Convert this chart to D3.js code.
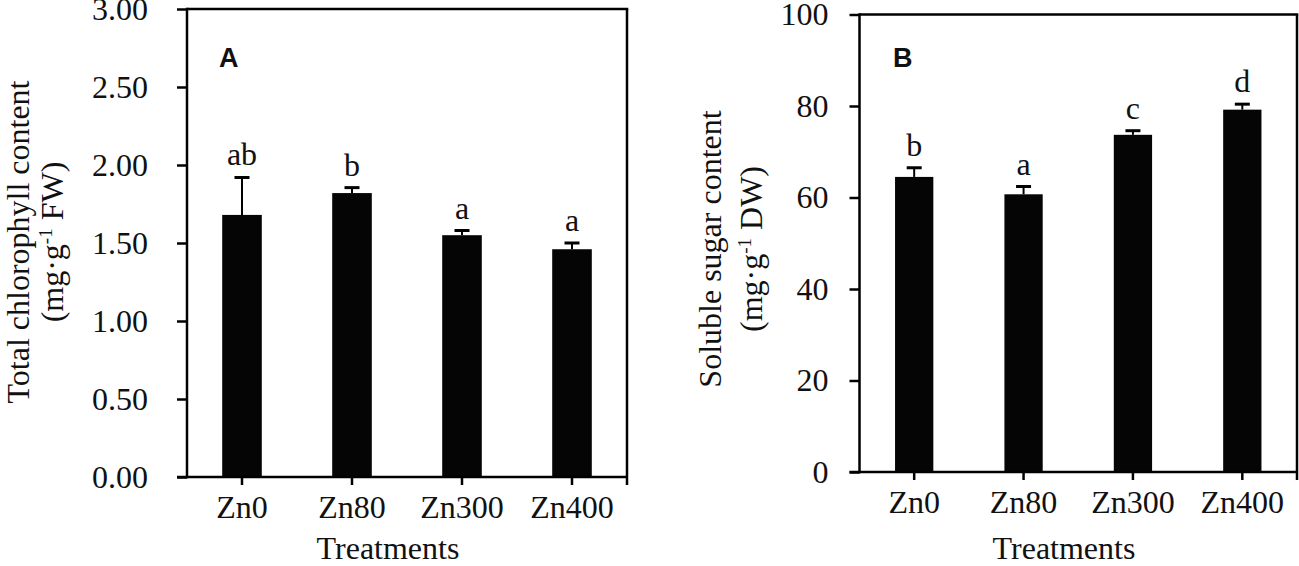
<!DOCTYPE html>
<html>
<head>
<meta charset="utf-8">
<script src="https://cdn.jsdelivr.net/npm/d3@7"></script>
<style>
  body { margin: 0; background: #fff; }
  text { font-family: "Liberation Serif", "Times New Roman", serif; fill: #111; }
</style>
</head>
<body>
<div id="chart"></div>
<script>
// Treatments (x categories), shared by both panels.
const treatments = ['Zn0', 'Zn80', 'Zn300', 'Zn400'];

// Panel A: total chlorophyll content.
const chlValues = [1.68, 1.82, 1.55, 1.46];
const chlErrors = [0.24, 0.035, 0.03, 0.04];
const chlLetters = ['ab', 'b', 'a', 'a'];
const chlTicks = [0, 0.5, 1, 1.5, 2, 2.5, 3];

// Panel B: soluble sugar content.
const sugarValues = [64.5, 60.7, 73.7, 79.2];
const sugarErrors = [2.0, 1.7, 0.9, 1.2];
const sugarLetters = ['b', 'a', 'c', 'd'];
const sugarTicks = [0, 20, 40, 60, 80, 100];


const svg = d3.select('#chart')
  .append('svg')
    .attr('width', 1299)
    .attr('height', 566);

drawPanel({
  left: 187, right: 627, top: 9, bottom: 477,
  values: chlValues, errors: chlErrors, letters: chlLetters,
  ticks: chlTicks, format: d3.format('.2f'),
  tickPadding: 29, barPadding: 0.64,
  tag: 'A', tagX: 219,
  yLabel: 'Total chlorophyll content', unit: ' FW)',
  labelX: [29, 63], labelY: 242,
  xTitleX: 388, xTitleY: 559
});

drawPanel({
  left: 859.5, right: 1297, top: 14.5, bottom: 472,
  values: sugarValues, errors: sugarErrors, letters: sugarLetters,
  ticks: sugarTicks, format: d3.format('d'),
  tickPadding: 21, barPadding: 0.65,
  tag: 'B', tagX: 893,
  yLabel: 'Soluble sugar content', unit: ' DW)',
  labelX: [721, 762], labelY: 249,
  xTitleX: 1064, xTitleY: 559
});


function drawPanel(p) {
  const g = svg.append('g');

  const x = d3.scaleBand()
    .domain(treatments)
    .range([p.left, p.right])
    .paddingInner(p.barPadding)
    .paddingOuter(p.barPadding / 2);

  const y = d3.scaleLinear()
    .domain([0, d3.max(p.ticks)])
    .range([p.bottom, p.top]);

  // Bars
  g.selectAll('.bar')
    .data(treatments)
    .enter()
    .append('rect')
      .attr('x', d => x(d))
      .attr('y', (d, i) => y(p.values[i]))
      .attr('width', x.bandwidth())
      .attr('height', (d, i) => p.bottom - y(p.values[i]))
      .attr('fill', '#050505');

  // Error bars (upper half only)
  const cx = d => x(d) + x.bandwidth() / 2;
  g.selectAll('.err')
    .data(treatments)
    .enter()
    .append('line')
      .attr('x1', cx).attr('x2', cx)
      .attr('y1', (d, i) => y(p.values[i]))
      .attr('y2', (d, i) => y(p.values[i] + p.errors[i]))
      .attr('stroke', '#000')
      .attr('stroke-width', 2);

  g.selectAll('.cap')
    .data(treatments)
    .enter()
    .append('line')
      .attr('x1', d => cx(d) - 7.5).attr('x2', d => cx(d) + 7.5)
      .attr('y1', (d, i) => y(p.values[i] + p.errors[i]))
      .attr('y2', (d, i) => y(p.values[i] + p.errors[i]))
      .attr('stroke', '#000')
      .attr('stroke-width', 3);

  // Significance letters
  g.selectAll('.letter')
    .data(treatments)
    .enter()
    .append('text')
      .attr('x', cx)
      .attr('y', (d, i) => y(p.values[i] + p.errors[i]) - 12)
      .attr('text-anchor', 'middle')
      .attr('font-size', '32px')
      .text((d, i) => p.letters[i]);

  // Axes
  const yAxis = d3.axisLeft(y)
    .tickValues(p.ticks)
    .tickFormat(p.format)
    .tickSize(10)
    .tickSizeOuter(0)
    .tickPadding(p.tickPadding);

  const xAxis = d3.axisBottom(x)
    .tickSize(8)
    .tickSizeOuter(0)
    .tickPadding(10);

  const yG = g.append('g')
    .attr('transform', `translate(${p.left}, 0)`)
    .call(yAxis);

  const xG = g.append('g')
    .attr('transform', `translate(0, ${p.bottom})`)
    .call(xAxis);

  for (const a of [yG, xG]) {
    a.attr('font-family', null).attr('font-size', null);
    a.select('.domain').attr('stroke', '#000').attr('stroke-width', 2.5);
    a.selectAll('.tick line').attr('stroke', '#000').attr('stroke-width', 2.5);
    a.selectAll('.tick text').attr('font-size', '32px').attr('fill', '#111');
  }
  yG.select('.domain').attr('d', `M0,${p.bottom + 1.25}V${p.top - 1.25}`);
  xG.select('.domain').attr('d', `M${p.left - 10},0H${p.right}`);

  // Top and right frame
  g.append('line')
    .attr('x1', p.left).attr('x2', p.right + 1.25)
    .attr('y1', p.top).attr('y2', p.top)
    .attr('stroke', '#000').attr('stroke-width', 2.5);
  g.append('line')
    .attr('x1', p.right).attr('x2', p.right)
    .attr('y1', p.top).attr('y2', p.bottom + 8)
    .attr('stroke', '#000').attr('stroke-width', 2.5);

  // Panel tag
  g.append('text')
    .attr('x', p.tagX)
    .attr('y', 67)
    .attr('font-weight', 'bold')
    .attr('font-size', '27px')
    .style('font-family', '"Liberation Sans", Arial, sans-serif')
    .text(p.tag);

  // Y axis title, two lines
  g.append('text')
    .attr('transform', `translate(${p.labelX[0]}, ${p.labelY}) rotate(-90)`)
    .attr('text-anchor', 'middle')
    .attr('font-size', '32px')
    .text(p.yLabel);

  const unit = g.append('text')
    .attr('transform', `translate(${p.labelX[1]}, ${p.labelY}) rotate(-90)`)
    .attr('text-anchor', 'middle')
    .attr('font-size', '32px');
  unit.append('tspan').text('(mg·g');
  unit.append('tspan').attr('font-size', '19px').attr('dy', -11).text('-1');
  unit.append('tspan').attr('dy', 11).text(p.unit);

  // X axis title
  g.append('text')
    .attr('x', p.xTitleX)
    .attr('y', p.xTitleY)
    .attr('text-anchor', 'middle')
    .attr('font-size', '32px')
    .text('Treatments');
}
</script>
</body>
</html>
